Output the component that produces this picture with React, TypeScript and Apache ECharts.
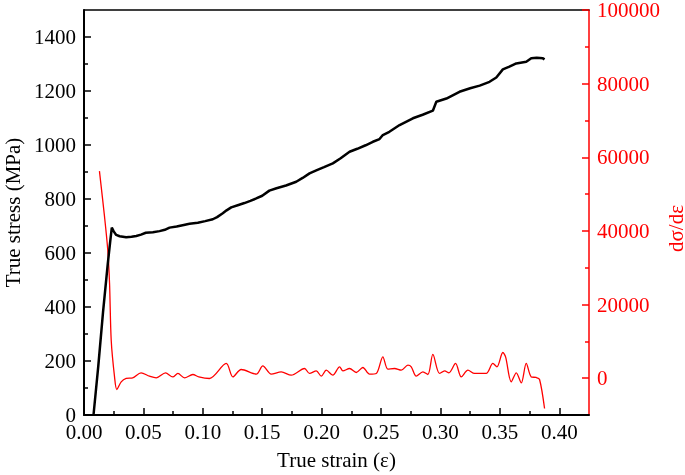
import React, { useEffect, useRef } from "react";
import * as echarts from "echarts";

const stressStrain = [0.008, 0.012, 0.016, 0.02, 0.022, 0.0234, 0.025, 0.0271, 0.03, 0.0355, 0.04, 0.044, 0.048, 0.052, 0.058, 0.0636, 0.068, 0.072, 0.078, 0.083, 0.0888, 0.0958, 0.102, 0.1084, 0.112, 0.1168, 0.12, 0.1239, 0.13, 0.135, 0.14, 0.145, 0.15, 0.156, 0.162, 0.17, 0.1786, 0.184, 0.1898, 0.195, 0.202, 0.2094, 0.216, 0.2235, 0.23, 0.237, 0.2431, 0.2487, 0.2515, 0.257, 0.2656, 0.2768, 0.285, 0.2936, 0.2965, 0.305, 0.316, 0.325, 0.333, 0.3413, 0.347, 0.3525, 0.358, 0.3638, 0.3722, 0.3764, 0.381, 0.3862, 0.3876];
const stressValues = [0, 180, 380, 560, 640, 694, 680, 667, 662, 658, 660, 663, 668, 675, 677, 681, 686, 694, 698, 703, 708, 712, 718, 725, 733, 747, 758, 769, 778, 785, 793, 802, 812, 831, 840, 850, 864, 878, 895, 905, 918, 932, 951, 975, 986, 999, 1012, 1022, 1037, 1049, 1074, 1099, 1112, 1127, 1160, 1172, 1197, 1210, 1220, 1234, 1250, 1280, 1290, 1302, 1308, 1321, 1323, 1321, 1317];

const slopeStrain = [0.013, 0.0173, 0.02, 0.0215, 0.0229, 0.0257, 0.0276, 0.0313, 0.0355, 0.041, 0.048, 0.0551, 0.0608, 0.0686, 0.0747, 0.079, 0.0846, 0.0916, 0.0966, 0.1056, 0.1197, 0.1253, 0.1323, 0.145, 0.1505, 0.1576, 0.166, 0.1744, 0.1856, 0.1898, 0.1955, 0.1997, 0.2039, 0.2094, 0.2151, 0.2179, 0.2235, 0.2291, 0.2347, 0.2403, 0.246, 0.2515, 0.2557, 0.2614, 0.267, 0.2726, 0.2754, 0.2796, 0.2852, 0.2894, 0.2936, 0.2992, 0.3035, 0.3071, 0.3127, 0.3175, 0.3231, 0.3287, 0.3385, 0.3441, 0.3475, 0.3525, 0.3548, 0.3596, 0.3638, 0.368, 0.3722, 0.3764, 0.3806, 0.3834, 0.3876];
const slopeValues = [56250, 43800, 34800, 25800, 10300, 350, -3070, -1000, -80, 80, 1440, 540, 80, 1440, 350, 1280, 80, 1000, 350, -80, 4000, 350, 2360, 1090, 3350, 1090, 1720, 815, 2630, 1280, 1990, 540, 2170, 815, 3080, 1990, 2630, 1540, 2900, 1090, 1280, 5800, 2450, 2630, 2170, 3530, 3080, 540, 1720, 1000, 6440, 1280, 1990, 1440, 4000, 350, 2170, 1280, 1280, 4000, 3080, 6980, 5800, -1000, 1440, -1280, 4000, 350, 190, -350, -8230];

const xMajorTicks = [0, 0.05, 0.1, 0.15, 0.2, 0.25, 0.3, 0.35, 0.4];
const xMinorTicks = [0.025, 0.075, 0.125, 0.175, 0.225, 0.275, 0.325, 0.375];
const yLeftMajorTicks = [0, 200, 400, 600, 800, 1000, 1200, 1400];
const yLeftMinorTicks = [100, 300, 500, 700, 900, 1100, 1300];
const yRightMajorTicks = [0, 20000, 40000, 60000, 80000, 100000];
const yRightMinorTicks = [10000, 30000, 50000, 70000, 90000];

const FONT = "Liberation Serif";
const RED = "#ff0000";

export default function App() {
  const ref = useRef<HTMLDivElement>(null);
  useEffect(() => {
    const chart = echarts.init(ref.current!, null, { renderer: "svg" });
    const labelStyle = { fontFamily: FONT, fontSize: 21, color: "#000" };
    const plain = (v: number) => String(v);
    chart.setOption({
      animation: false,
      grid: { left: 84, top: 10, width: 505, height: 405, outerBoundsMode: "none", containLabel: false },
      xAxis: [
        {
          type: "value", min: 0, max: 0.425, position: "bottom", offset: 0,
          axisLine: { onZero: false, lineStyle: { color: "#000", width: 2 } },
          axisTick: { inside: true, length: 7, customValues: xMajorTicks, lineStyle: { color: "#000", width: 1.5 } },
          axisLabel: { ...labelStyle, margin: 6, customValues: xMajorTicks, formatter: (v: number) => v.toFixed(2) },
          splitLine: { show: false },
          name: "True strain (ε)", nameLocation: "middle", nameGap: 34, nameMoveOverlap: false,
          nameTextStyle: { fontFamily: FONT, fontSize: 21, color: "#000" },
        },
        {
          type: "value", min: 0, max: 0.425, position: "bottom", offset: 0,
          axisLine: { show: false, onZero: false },
          axisTick: { inside: true, length: 4, customValues: xMinorTicks, lineStyle: { color: "#000", width: 1.5 } },
          axisLabel: { show: false },
          splitLine: { show: false },
        },
        {
          type: "value", min: 0, max: 0.425, position: "top", offset: 0,
          axisLine: { onZero: false, lineStyle: { color: "#000", width: 1.5 } },
          axisTick: { show: false }, axisLabel: { show: false }, splitLine: { show: false },
        },
      ],
      yAxis: [
        {
          type: "value", min: 0, max: 1500, position: "left", offset: 0,
          axisLine: { show: true, onZero: false, lineStyle: { color: "#000", width: 2 } },
          axisTick: { show: true, inside: true, length: 7, customValues: yLeftMajorTicks, lineStyle: { color: "#000", width: 1.5 } },
          axisLabel: { ...labelStyle, margin: 8, customValues: yLeftMajorTicks, formatter: plain },
          splitLine: { show: false },
          name: "True stress (MPa)", nameLocation: "middle", nameGap: 61, nameMoveOverlap: false,
          nameTextStyle: { fontFamily: FONT, fontSize: 21, color: "#000" },
        },
        {
          type: "value", min: 0, max: 1500, position: "left", offset: 0,
          axisLine: { show: false, onZero: false },
          axisTick: { show: true, inside: true, length: 4, customValues: yLeftMinorTicks, lineStyle: { color: "#000", width: 1.5 } },
          axisLabel: { show: false }, splitLine: { show: false },
        },
        {
          type: "value", min: -10000, max: 100000, position: "right", offset: 0,
          axisLine: { show: true, onZero: false, lineStyle: { color: RED, width: 1.5 } },
          axisTick: { show: true, inside: true, length: 7, customValues: yRightMajorTicks, lineStyle: { color: RED, width: 1.5 } },
          axisLabel: { fontFamily: FONT, fontSize: 21, color: RED, margin: 8, customValues: yRightMajorTicks, formatter: plain },
          splitLine: { show: false },
          name: "dσ/dε", nameLocation: "middle", nameGap: 76, nameMoveOverlap: false,
          nameTextStyle: { fontFamily: FONT, fontSize: 21, color: RED, padding: [0, 32, 0, 0] },
        },
        {
          type: "value", min: -10000, max: 100000, position: "right", offset: 0,
          axisLine: { show: false, onZero: false },
          axisTick: { show: true, inside: true, length: 4, customValues: yRightMinorTicks, lineStyle: { color: RED, width: 1.5 } },
          axisLabel: { show: false }, splitLine: { show: false },
        },
      ],
      series: [
        {
          type: "line", xAxisIndex: 0, yAxisIndex: 2, showSymbol: false, smooth: 0.3,
          lineStyle: { color: RED, width: 1.3 },
          data: slopeStrain.map((x, i) => [x, slopeValues[i]]),
        },
        {
          type: "line", xAxisIndex: 0, yAxisIndex: 0, showSymbol: false,
          lineStyle: { color: "#000", width: 2.5 },
          data: stressStrain.map((x, i) => [x, stressValues[i]]),
        },
      ],
    });
    return () => chart.dispose();
  }, []);
  return <div ref={ref} style={{ position: "fixed", left: 0, top: 0, width: 685, height: 475 }} />;
}
